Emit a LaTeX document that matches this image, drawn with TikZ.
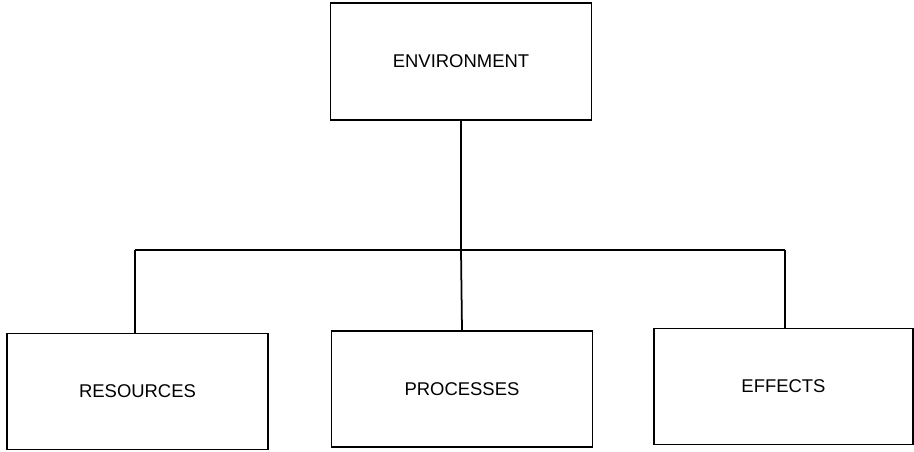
\documentclass[tikz,border=0pt]{standalone}
\usepackage{fontspec}
\setmainfont{Liberation Sans}
\usepackage{tikz}
\usetikzlibrary{positioning}

\begin{document}
\begin{tikzpicture}[x=0.02cm, y=-0.02cm, font=\fontsize{10.5}{12}\selectfont,
  boxnode/.style={draw, line width=1pt, minimum width=5.22cm, minimum height=2.32cm, inner sep=0pt},
  link/.style={line width=1pt}]
\useasboundingbox (0,0) rectangle (914,451);
% top box
\node[boxnode, minimum height=2.34cm] (env) at (461,61.5) {ENVIRONMENT};
% bottom row
\node[boxnode] (res) at (137.5,391.5) {RESOURCES};
\node[boxnode] (pro) at (462,389) {PROCESSES};
\node[boxnode, minimum width=5.18cm] (eff) at (783.5,386.5) {EFFECTS};
% bus line
\coordinate (busL) at (135,250);
\coordinate (busR) at (785,250);
\coordinate (busM) at (env.south |- busL);
\draw[link] (env.south) -- (busM);
\draw[link] (busL) -- (busR);
\draw[link] (busL) -- (busL |- res.north);
\draw[link] (busM) -- (pro.north);
\draw[link] (busR) -- (busR |- eff.north);
\end{tikzpicture}
\end{document}
